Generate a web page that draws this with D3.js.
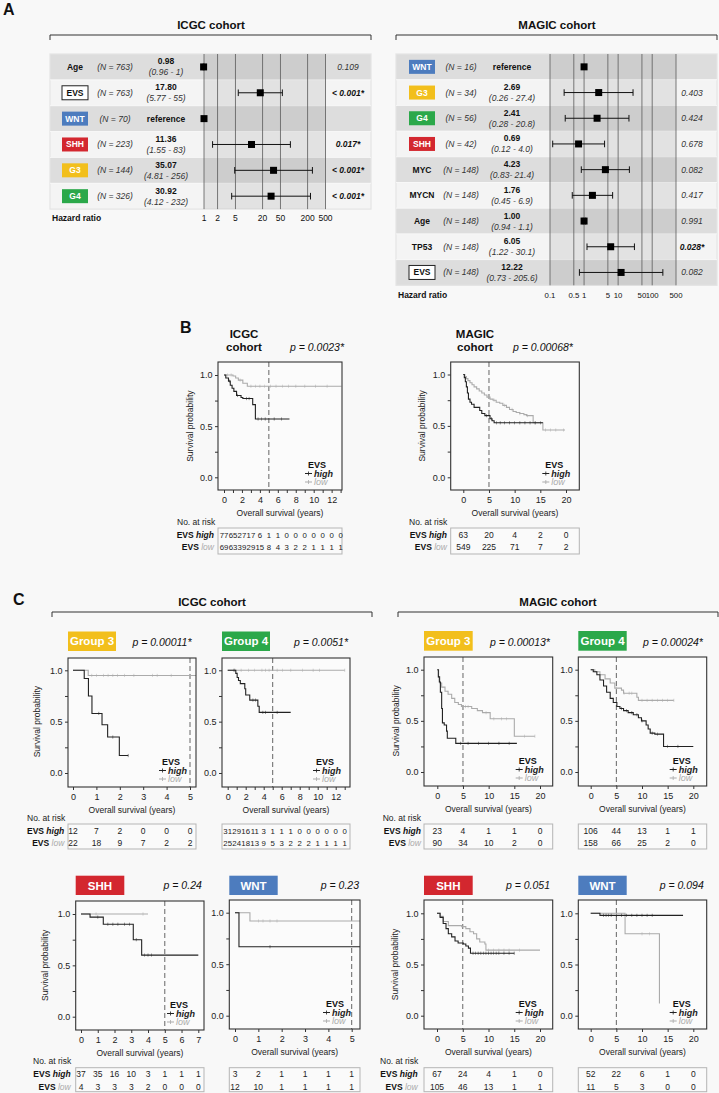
<!DOCTYPE html>
<html><head><meta charset="utf-8">
<script src="https://cdn.jsdelivr.net/npm/d3@7"></script>
<style>
body{margin:0;background:#f8f8f8;}
svg{display:block;font-family:"Liberation Sans",Arial,Helvetica,sans-serif;}
</style></head>
<body><svg id="c" width="719" height="1093"></svg>
<script>
// ---------------- DATA: Panel A forest plots ----------------
const icgcLabels = ["Age","EVS","WNT","SHH","G3","G4"];
const icgcN = [763,763,70,223,144,326];
const icgcHR = [0.98,17.80,1,11.36,35.07,30.92];
const icgcHRText = ["0.98","17.80","reference","11.36","35.07","30.92"];
const icgcLo = [0.96,5.77,null,1.55,4.81,4.12];
const icgcHi = [1,55,null,83,256,232];
const icgcCIText = ["(0.96 - 1)","(5.77 - 55)","","(1.55 - 83)","(4.81 - 256)","(4.12 - 232)"];
const icgcP = ["0.109","< 0.001*","","0.017*","< 0.001*","< 0.001*"];
const icgcHRTicks = [1,2,5,20,50,200,500];

const magicLabels = ["WNT","G3","G4","SHH","MYC","MYCN","Age","TP53","EVS"];
const magicN = [16,34,56,42,148,148,148,148,148];
const magicHR = [1,2.69,2.41,0.69,4.23,1.76,1.00,6.05,12.22];
const magicHRText = ["reference","2.69","2.41","0.69","4.23","1.76","1.00","6.05","12.22"];
const magicLo = [null,0.26,0.28,0.12,0.83,0.45,0.94,1.22,0.73];
const magicHi = [null,27.4,20.8,4.0,21.4,6.9,1.1,30.1,205.6];
const magicCIText = ["","(0.26 - 27.4)","(0.28 - 20.8)","(0.12 - 4.0)","(0.83- 21.4)","(0.45 - 6.9)","(0.94 - 1.1)","(1.22 - 30.1)","(0.73 - 205.6)"];
const magicP = ["","0.403","0.424","0.678","0.082","0.417","0.991","0.028*","0.082"];
const magicHRTicks = [0.1,0.5,1,5,10,50,100,500];

// ---------------- DATA: Kaplan-Meier curves [years, survival] ----------------
const bIcgcHigh = [[0,1],[0.2,0.97],[0.5,0.94],[0.7,0.9],[0.9,0.87],[1.1,0.84],[1.4,0.8],[1.9,0.78],[2.1,0.77],[3.2,0.71],[3.5,0.57],[7.3,0.57]];
const bIcgcLow = [[0,1],[1.0,0.99],[1.3,0.97],[1.6,0.95],[2.1,0.92],[2.6,0.89],[13.1,0.89]];
const bIcgcHighCens = [0.6,1.5,2.5,2.8,3.8,4.2,4.6,5.6,6.4];
const bIcgcLowCens = [0.4,0.8,1.8,3.0,3.5,4.0,4.5,5.2,5.8,6.5,7.2,8.0,9.0,10.2,11.5];
const bIcgcRiskHigh = [77,65,27,17,6,1,1,0,0,0,0,0,0,0];
const bIcgcRiskLow = [69,63,39,29,15,8,4,3,2,2,1,1,1,1];
const bIcgcXTicks = [0,2,4,6,8,10,12];

const bMagicHigh = [[0,1],[0.2,0.97],[0.4,0.93],[0.6,0.88],[0.8,0.82],[1.0,0.76],[1.3,0.73],[1.6,0.71],[2.1,0.68],[3.2,0.65],[3.6,0.62],[4.2,0.6],[5.2,0.57],[5.6,0.55],[6.0,0.53],[15.5,0.53]];
const bMagicLow = [[0,1],[0.3,0.98],[0.6,0.96],[0.9,0.94],[1.3,0.92],[1.7,0.9],[2.1,0.88],[2.6,0.86],[3.1,0.84],[3.6,0.82],[4.1,0.8],[4.6,0.78],[5.2,0.76],[5.8,0.75],[6.4,0.73],[7.1,0.72],[7.7,0.7],[8.4,0.68],[9.0,0.66],[9.7,0.64],[10.3,0.63],[11.0,0.62],[11.8,0.61],[12.3,0.6],[13.6,0.53],[15.5,0.46],[19.8,0.46]];
const bMagicHighCens = [4.5,5.5,6.5,7.2,8,9,10,11,12,13,14,15];
const bMagicLowCens = [6,8,9.5,11,12.5,14,16,17,18,19.5];
const bMagicRiskHigh = [63,20,4,2,0];
const bMagicRiskLow = [549,225,71,7,2];
const magicXTicks = [0,5,10,15,20];

const cIcgcG3High = [[0,1],[0.48,0.92],[0.66,0.75],[0.81,0.58],[1.24,0.47],[1.48,0.35],[1.98,0.17],[2.36,0.17]];
const cIcgcG3Low = [[0,1],[0.65,0.95],[5.4,0.95]];
const cIcgcG3HighCens = [1.1,1.7,2.36];
const cIcgcG3LowCens = [0.8,1.0,1.3,1.5,1.7,1.9,2.2,2.6,3.4,3.6,4.2,5.0];
const cIcgcG3RiskHigh = [12,7,2,0,0,0];
const cIcgcG3RiskLow = [22,18,9,7,2,2];
const icgcFiveTicks = [0,1,2,3,4,5];

const cIcgcG4High = [[0,1],[0.9,0.97],[1.05,0.93],[1.2,0.9],[1.4,0.87],[1.9,0.82],[2.0,0.76],[2.45,0.71],[3.35,0.65],[3.5,0.59],[7.0,0.59]];
const cIcgcG4Low = [[0,1],[13.0,1]];
const cIcgcG4HighCens = [0.7,2.8,3.1,3.9,4.2,5.5];
const cIcgcG4LowCens = [0.8,1.5,2.3,3.0,3.8,4.2,4.6,5.5,6.1,7.0,8.3,9.5,10.2,13.0];
const cIcgcG4RiskHigh = [31,29,16,11,3,1,1,1,0,0,0,0,0,0];
const cIcgcG4RiskLow = [25,24,18,13,9,5,3,2,2,2,1,1,1,1];

const cMagicG3High = [[0,1],[0.2,0.93],[0.4,0.88],[0.6,0.78],[0.85,0.62],[1.0,0.48],[1.35,0.46],[1.8,0.4],[1.95,0.33],[3.6,0.28],[15.5,0.28]];
const cMagicG3Low = [[0,1],[0.25,0.93],[0.5,0.87],[0.85,0.83],[1.5,0.79],[2.1,0.76],[2.8,0.72],[3.4,0.68],[4.1,0.66],[4.7,0.64],[6.7,0.62],[7.8,0.6],[8.8,0.58],[10.3,0.52],[15.0,0.35],[19.0,0.35]];
const cMagicG3HighCens = [4.5,6,8,10,12,14];
const cMagicG3LowCens = [5.5,6,9.5,11,12.5,13.5,17,19];
const cMagicG3RiskHigh = [23,4,1,1,0];
const cMagicG3RiskLow = [90,34,10,2,0];

const cMagicG4High = [[0,1],[0.5,0.98],[1.2,0.95],[1.8,0.9],[2.5,0.84],[3.1,0.78],[3.8,0.72],[4.4,0.68],[5.1,0.64],[5.7,0.62],[6.4,0.6],[7.3,0.58],[8.3,0.56],[9.3,0.53],[9.9,0.5],[10.8,0.46],[11.2,0.42],[11.6,0.38],[12.5,0.37],[14.2,0.25],[20,0.25]];
const cMagicG4Low = [[0,1],[0.8,0.98],[1.8,0.95],[2.8,0.91],[3.8,0.87],[4.7,0.82],[6.0,0.8],[6.4,0.77],[8.6,0.77],[9.0,0.73],[9.3,0.7],[16.2,0.7]];
const cMagicG4HighCens = [6,7,8,9,10,12,13,15,17];
const cMagicG4LowCens = [5,6.5,7.5,8,10,11,12,13,14,15,16.2];
const cMagicG4RiskHigh = [106,44,13,1,1];
const cMagicG4RiskLow = [158,66,25,2,0];

const cIcgcShhHigh = [[0,1],[0.54,0.97],[1.33,0.9],[3.12,0.75],[3.62,0.6],[7.0,0.6]];
const cIcgcShhLow = [[0,1],[4.0,1]];
const cIcgcShhHighCens = [1.0,1.6,1.9,2.2,2.6,2.9,3.3,3.8,4.0,4.2];
const cIcgcShhLowCens = [0.9,3.7];
const cIcgcShhRiskHigh = [37,35,16,10,3,1,1,1];
const cIcgcShhRiskLow = [4,3,3,3,2,0,0,0];
const icgcSevenTicks = [0,1,2,3,4,5,6,7];

const cIcgcWntHigh = [[0,1],[0.17,0.67],[5.4,0.67]];
const cIcgcWntLow = [[0,1],[0.64,0.92],[5.4,0.92]];
const cIcgcWntHighCens = [1.5];
const cIcgcWntLowCens = [1.0,1.2,1.5,1.8];
const cIcgcWntRiskHigh = [3,2,1,1,1,1];
const cIcgcWntRiskLow = [12,10,1,1,1,1];

const cMagicShhHigh = [[0,1],[0.6,0.96],[1.2,0.9],[1.75,0.85],[2.2,0.8],[2.85,0.77],[3.5,0.73],[4.1,0.71],[5.1,0.7],[5.6,0.68],[6.1,0.66],[6.5,0.61],[15,0.61]];
const cMagicShhLow = [[0,1],[0.6,0.97],[1.2,0.92],[2.2,0.88],[4.8,0.87],[5.6,0.85],[6.4,0.82],[7.1,0.8],[7.7,0.75],[8.3,0.72],[9.3,0.7],[9.5,0.64],[20,0.64]];
const cMagicShhHighCens = [7,7.5,8,8.5,9,9.5,10,10.5,11,11.5,12,13,14,15];
const cMagicShhLowCens = [10,11,12,13,14,16];
const cMagicShhRiskHigh = [67,24,4,1,0];
const cMagicShhRiskLow = [105,46,13,1,1];

const cMagicWntHigh = [[0,1],[1.8,0.98],[18,0.98]];
const cMagicWntLow = [[0,1],[6.7,0.8],[13.4,0.12]];
const cMagicWntHighCens = [2.5,3,3.5,4,5,6,7,8,9,10,11,12];
const cMagicWntLowCens = [10,11.5];
const cMagicWntRiskHigh = [52,22,6,1,0];
const cMagicWntRiskLow = [11,5,3,0,0];

// ---------------- STYLE ----------------
const groupColor = {"WNT":"#4d7cbe","SHH":"#d3272f","G3":"#f2bf1c","G4":"#2ba84a","Group 3":"#f2bf1c","Group 4":"#2ba84a"};
const HIGH = "#222", LOW = "#ababab";

const svg = d3.select("#c");
svg.append("rect").attr("width",719).attr("height",1093).attr("fill","#f8f8f8");

function txt(g,x,y,s,o={}){
  const t=g.append("text").attr("x",x).attr("y",y).text(s)
    .attr("font-size",o.size||9).attr("text-anchor",o.anchor||"start").attr("fill",o.fill||"#111");
  if(o.bold) t.attr("font-weight","bold");
  if(o.italic) t.attr("font-style","italic");
  return t;
}
function bracket(x0,x1,y){
  svg.append("path").attr("d",`M${x0},${y+5}V${y}H${x1}V${y+5}`).attr("fill","none").attr("stroke","#333").attr("stroke-width",1);
}

// panel letters & headers
txt(svg,3,15,"A",{size:16,bold:true});
txt(svg,180,333,"B",{size:16,bold:true});
txt(svg,13,605,"C",{size:16,bold:true});
txt(svg,211,29,"ICGC cohort",{size:11.5,bold:true,anchor:"middle"});
txt(svg,557,29,"MAGIC cohort",{size:11.5,bold:true,anchor:"middle"});
bracket(50,371,35); bracket(396,717,35);
txt(svg,212,606,"ICGC cohort",{size:11.5,bold:true,anchor:"middle"});
txt(svg,558,606,"MAGIC cohort",{size:11.5,bold:true,anchor:"middle"});
bracket(52,372,612); bracket(398,718,612);

// ---------------- Forest plot ----------------
function forest(c){
  const g=svg.append("g");
  const n=c.labels.length;
  const y=d3.scaleBand().domain(d3.range(n)).range([c.top,c.top+n*c.rowH]);
  const x=d3.scaleLog().domain(c.domain).range(c.range);
  const bottom=c.top+n*c.rowH;
  g.selectAll("rect.row").data(d3.range(n)).join("rect").attr("class","row")
    .attr("x",c.x0).attr("width",c.x1-c.x0).attr("y",i=>y(i)).attr("height",y.bandwidth())
    .attr("fill",i=>i%2===0?"#dddddd":"#f4f4f4");
  g.append("rect").attr("x",c.x0).attr("y",c.top).attr("width",c.x1-c.x0).attr("height",n*c.rowH)
    .attr("fill","none").attr("stroke","#e4e4e4").attr("stroke-width",1.2);
  g.selectAll("line.sep").data(d3.range(1,n)).join("line")
    .attr("x1",c.x0).attr("x2",c.x1).attr("y1",i=>y(i)).attr("y2",i=>y(i)).attr("stroke","#fafafa").attr("stroke-width",0.8);
  g.append("rect").attr("x",x(c.domain[0])).attr("width",x(c.domain[1])-x(c.domain[0]))
    .attr("y",c.top).attr("height",n*c.rowH).attr("fill","rgba(0,0,0,0.07)");
  g.selectAll("line.grid").data(c.ticks).join("line")
    .attr("x1",d=>x(d)).attr("x2",d=>x(d)).attr("y1",c.top).attr("y2",bottom)
    .attr("stroke","#5a5a5a").attr("stroke-width",0.8);
  g.selectAll("text.tick").data(c.ticks).join("text")
    .attr("x",d=>x(d)).attr("y",c.tickY).attr("text-anchor","middle").attr("font-size",c.tickSize).attr("fill","#111")
    .text(d=>String(d));
  txt(g,c.hrLabelX,c.tickY,"Hazard ratio",{size:8.5,bold:true});
  d3.range(n).forEach(i=>{
    const cy=y(i)+y.bandwidth()/2;
    const lab=c.labels[i];
    if(lab==="EVS"){
      g.append("rect").attr("x",c.cols.label-13).attr("y",cy-7).attr("width",26).attr("height",14)
        .attr("fill","#fff").attr("stroke","#222").attr("stroke-width",1);
      txt(g,c.cols.label,cy+3,lab,{size:8.5,bold:true,anchor:"middle"});
    } else if(groupColor[lab]){
      g.append("rect").attr("x",c.cols.label-13).attr("y",cy-7).attr("width",26).attr("height",14)
        .attr("fill",groupColor[lab]);
      txt(g,c.cols.label,cy+3,lab,{size:8.5,bold:true,anchor:"middle",fill:"#fff"});
    } else {
      txt(g,c.cols.label,cy+3,lab,{size:8.5,bold:true,anchor:"middle"});
    }
    txt(g,c.cols.n,cy+3,`(N = ${c.ns[i]})`,{size:8.5,italic:true,anchor:"middle",fill:"#333"});
    if(c.ci[i]){
      txt(g,c.cols.hr,cy-2.5,c.hrText[i],{size:8.5,bold:true,anchor:"middle"});
      txt(g,c.cols.hr,cy+8.5,c.ci[i],{size:8.5,italic:true,anchor:"middle",fill:"#333"});
    } else {
      txt(g,c.cols.hr,cy+3,c.hrText[i],{size:8.5,bold:true,anchor:"middle"});
    }
    if(c.p[i]){
      const sig=c.p[i].includes("*");
      txt(g,c.cols.p,cy+3,c.p[i],{size:8.5,italic:true,bold:sig,anchor:"middle",fill:sig?"#111":"#333"});
    }
    if(c.lo[i]!=null){
      const x0=x(c.lo[i]), x1=x(c.hi[i]);
      g.append("line").attr("x1",x0).attr("x2",x1).attr("y1",cy).attr("y2",cy).attr("stroke","#111").attr("stroke-width",1);
      [x0,x1].forEach(xx=>g.append("line").attr("x1",xx).attr("x2",xx).attr("y1",cy-3.3).attr("y2",cy+3.3).attr("stroke","#111").attr("stroke-width",1));
    }
    g.append("rect").attr("x",x(c.hr[i])-3.5).attr("y",cy-3.5).attr("width",7).attr("height",7).attr("fill","#000");
  });
}
forest({labels:icgcLabels,ns:icgcN,hr:icgcHR,hrText:icgcHRText,lo:icgcLo,hi:icgcHi,ci:icgcCIText,p:icgcP,ticks:icgcHRTicks,
  x0:50,x1:371,top:54,rowH:25.85,domain:[1,500],range:[204,325.5],cols:{label:75,n:115,hr:166,p:348},tickY:221,tickSize:8.5,hrLabelX:52});
forest({labels:magicLabels,ns:magicN,hr:magicHR,hrText:magicHRText,lo:magicLo,hi:magicHi,ci:magicCIText,p:magicP,ticks:magicHRTicks,
  x0:396,x1:717,top:54,rowH:25.7,domain:[0.1,500],range:[550,676],cols:{label:422,n:461,hr:512,p:692},tickY:298,tickSize:7.8,hrLabelX:398});

// ---------------- KM plot ----------------
function stepVal(arr,t){let v=arr[0][1];for(const d of arr){if(d[0]<=t)v=d[1];}return v;}
function km(c){
  const g=svg.append("g");
  const [bx0,bx1,by0,by1]=c.box;
  const x=d3.scaleLinear().domain(c.xd).range(c.xr);
  const y=d3.scaleLinear().domain([0,1]).range(c.yr);
  g.append("rect").attr("x",bx0).attr("y",by0).attr("width",bx1-bx0).attr("height",by1-by0).attr("fill","#fbfbfb");
  const cid="clip-"+c.id;
  svg.append("clipPath").attr("id",cid).append("rect").attr("x",bx0).attr("y",by0).attr("width",bx1-bx0).attr("height",by1-by0);
  const inner=g.append("g").attr("clip-path",`url(#${cid})`);
  inner.append("line").attr("x1",x(5)).attr("x2",x(5)).attr("y1",by0).attr("y2",by1)
    .attr("stroke","#555").attr("stroke-width",0.9).attr("stroke-dasharray","5,3");
  const line=d3.line().x(d=>x(d[0])).y(d=>y(d[1])).curve(d3.curveStepAfter);
  [[c.low,c.lowCens,LOW],[c.high,c.highCens,HIGH]].forEach(([arr,cens,col])=>{
    inner.append("path").attr("d",line(arr)).attr("fill","none").attr("stroke",col).attr("stroke-width",1.1);
    inner.selectAll(null).data(cens).join("line")
      .attr("x1",d=>x(d)).attr("x2",d=>x(d)).attr("y1",d=>y(stepVal(arr,d))-1.6).attr("y2",d=>y(stepVal(arr,d))+1.6)
      .attr("stroke",col).attr("stroke-width",0.6).attr("opacity",0.8);
  });
  // legend
  const R=bx1;
  txt(g,R-25,by1-22.5,"EVS",{size:9,bold:true,anchor:"middle"});
  [["high",HIGH,by1-13.5,true],["low",LOW,by1-5,false]].forEach(([s,col,bl,b])=>{
    g.append("line").attr("x1",R-37).attr("x2",R-30).attr("y1",bl-3).attr("y2",bl-3).attr("stroke",col).attr("stroke-width",1);
    g.append("line").attr("x1",R-33.5).attr("x2",R-33.5).attr("y1",bl-5).attr("y2",bl-1).attr("stroke",col).attr("stroke-width",0.8);
    txt(g,R-28,bl,s,{size:9,bold:b,italic:true,fill:col});
  });
  g.append("rect").attr("x",bx0).attr("y",by0).attr("width",bx1-bx0).attr("height",by1-by0)
    .attr("fill","none").attr("stroke","#333").attr("stroke-width",1.1);
  // x axis
  const minor=c.minor?d3.range(c.xd[0],c.xd[1]+0.001,c.minor):c.xt;
  const xa=g.append("g").attr("transform",`translate(0,${by1})`)
    .call(d3.axisBottom(x).tickValues(minor).tickSize(3).tickPadding(3.6).tickFormat(d=>c.xt.includes(d)?d3.format("d")(d):""));
  xa.select(".domain").remove();
  xa.selectAll("text").attr("font-size",9).attr("fill","#222").attr("font-family",null);
  xa.selectAll("line").attr("stroke","#333");
  txt(g,(bx0+bx1)/2,by1+25.5,"Overall survival (years)",{size:8.5,anchor:"middle",fill:"#222"});
  // y axis
  const ya=g.append("g").attr("transform",`translate(${bx0},0)`)
    .call(d3.axisLeft(y).tickValues([0,0.25,0.5,0.75,1]).tickSize(3).tickPadding(2.5).tickFormat(d=>(d===0||d===0.5||d===1)?d.toFixed(1):""));
  ya.select(".domain").remove();
  ya.selectAll("text").attr("font-size",9).attr("fill","#222").attr("font-family",null);
  ya.selectAll("line").attr("stroke","#333");
  if(c.yTitleX!=null){
    const cy=(c.yr[0]+c.yr[1])/2;
    txt(g,0,0,"Survival probability",{size:8.5,anchor:"middle",fill:"#222"})
      .attr("transform",`translate(${c.yTitleX},${cy}) rotate(-90)`).attr("x",0).attr("y",3);
  }
  // header
  if(c.title){
    txt(g,c.title.cx,c.title.y[0],c.title.lines[0],{size:11.5,bold:true,anchor:"middle"});
    txt(g,c.title.cx,c.title.y[1],c.title.lines[1],{size:11.5,bold:true,anchor:"middle"});
  }
  if(c.label){
    const [lx0,lx1,ly0,ly1]=c.label.box;
    g.append("rect").attr("x",lx0).attr("y",ly0).attr("width",lx1-lx0).attr("height",ly1-ly0).attr("fill",groupColor[c.label.text]);
    txt(g,(lx0+lx1)/2,(ly0+ly1)/2+4.2,c.label.text,{size:11.5,bold:true,anchor:"middle",fill:"#fff"});
  }
  txt(g,c.p.x,c.p.y,c.p.text,{size:10.5,italic:true,anchor:c.p.anchor||"middle",fill:"#111"});
  // risk table
  const [rt,rb]=c.risk;
  g.append("rect").attr("x",bx0).attr("y",rt).attr("width",bx1-bx0).attr("height",rb-rt)
    .attr("fill","#fafafa").attr("stroke","#b5b5b5").attr("stroke-width",1);
  const fs=c.riskHigh.length>8?7.8:8.5;
  [[c.riskHigh,rt+9.6],[c.riskLow,rt+22.3]].forEach(([vals,bl])=>{
    g.selectAll(null).data(vals).join("text")
      .attr("x",(d,i)=>x(i*c.riskStep)).attr("y",bl).attr("text-anchor","middle")
      .attr("font-size",fs).attr("fill","#222").text(d=>d);
  });
  if(c.riskLabelX!=null){
    txt(g,c.noRiskX,rt-3.5,"No. at risk",{size:8.5,fill:"#222"});
    const t1=g.append("text").attr("x",c.riskLabelX).attr("y",rt+9.6).attr("text-anchor","end").attr("font-size",8.5);
    t1.append("tspan").attr("font-weight","bold").attr("fill","#111").text("EVS ");
    t1.append("tspan").attr("font-weight","bold").attr("font-style","italic").attr("fill","#111").text("high");
    const t2=g.append("text").attr("x",c.riskLabelX).attr("y",rt+22.3).attr("text-anchor","end").attr("font-size",8.5);
    t2.append("tspan").attr("font-weight","bold").attr("fill","#111").text("EVS ");
    t2.append("tspan").attr("font-style","italic").attr("fill",LOW).text("low");
  }
}

const kmPlots=[
 {id:"bIcgc",box:[218,342,362,490],xd:[0,13],xr:[224,340.6],yr:[477.3,375],xt:bIcgcXTicks,minor:1,
  high:bIcgcHigh,low:bIcgcLow,highCens:bIcgcHighCens,lowCens:bIcgcLowCens,riskHigh:bIcgcRiskHigh,riskLow:bIcgcRiskLow,riskStep:1,
  risk:[528,554],riskLabelX:214,noRiskX:177,yTitleX:190,
  title:{cx:244,y:[337.5,350.5],lines:["ICGC","cohort"]},p:{x:317,y:350.5,text:"p = 0.0023*"}},
 {id:"bMagic",box:[450.7,579.3,362,490],xd:[0,20],xr:[463.3,566],yr:[477.3,374.5],xt:magicXTicks,
  high:bMagicHigh,low:bMagicLow,highCens:bMagicHighCens,lowCens:bMagicLowCens,riskHigh:bMagicRiskHigh,riskLow:bMagicRiskLow,riskStep:5,
  risk:[528,554],riskLabelX:447,noRiskX:409,yTitleX:421.7,
  title:{cx:475,y:[337.5,350.5],lines:["MAGIC","cohort"]},p:{x:543,y:350.5,text:"p = 0.00068*"}},
 {id:"cIcgcG3",box:[68,196,658,787],xd:[0,5],xr:[73,190],yr:[773,670.3],xt:icgcFiveTicks,
  high:cIcgcG3High,low:cIcgcG3Low,highCens:cIcgcG3HighCens,lowCens:cIcgcG3LowCens,riskHigh:cIcgcG3RiskHigh,riskLow:cIcgcG3RiskLow,riskStep:1,
  risk:[824,849],riskLabelX:64.3,noRiskX:27,yTitleX:37,
  label:{text:"Group 3",box:[68,116,631.5,651]},p:{x:162,y:645.5,text:"p = 0.00011*"}},
 {id:"cIcgcG4",box:[222,350,658,787],xd:[0,13],xr:[227.7,344.7],yr:[773,670.3],xt:bIcgcXTicks,minor:1,
  high:cIcgcG4High,low:cIcgcG4Low,highCens:cIcgcG4HighCens,lowCens:cIcgcG4LowCens,riskHigh:cIcgcG4RiskHigh,riskLow:cIcgcG4RiskLow,riskStep:1,
  risk:[824,849],
  label:{text:"Group 4",box:[222,270,631.5,651]},p:{x:321,y:645.5,text:"p = 0.0051*"}},
 {id:"cMagicG3",box:[424,552.7,657,786],xd:[0,20],xr:[437.3,540],yr:[772,669.7],xt:magicXTicks,
  high:cMagicG3High,low:cMagicG3Low,highCens:cMagicG3HighCens,lowCens:cMagicG3LowCens,riskHigh:cMagicG3RiskHigh,riskLow:cMagicG3RiskLow,riskStep:5,
  risk:[824,849],riskLabelX:421,noRiskX:382.7,yTitleX:396,
  label:{text:"Group 3",box:[424,472.7,631,650.7]},p:{x:520,y:645.5,text:"p = 0.00013*"}},
 {id:"cMagicG4",box:[578.3,706.7,657,786],xd:[0,20],xr:[590.7,693.3],yr:[772,669.7],xt:magicXTicks,
  high:cMagicG4High,low:cMagicG4Low,highCens:cMagicG4HighCens,lowCens:cMagicG4LowCens,riskHigh:cMagicG4RiskHigh,riskLow:cMagicG4RiskLow,riskStep:5,
  risk:[824,849],
  label:{text:"Group 4",box:[578.3,626.7,631,650.7]},p:{x:673,y:645.5,text:"p = 0.00024*"}},
 {id:"cIcgcShh",box:[75.7,204,901,1030],xd:[0,7],xr:[81,198.3],yr:[1016.7,914],xt:icgcSevenTicks,
  high:cIcgcShhHigh,low:cIcgcShhLow,highCens:cIcgcShhHighCens,lowCens:cIcgcShhLowCens,riskHigh:cIcgcShhRiskHigh,riskLow:cIcgcShhRiskLow,riskStep:1,
  risk:[1067.7,1091.7],riskLabelX:70.7,noRiskX:33,yTitleX:45,
  label:{text:"SHH",box:[75.7,124.3,875.7,895]},p:{x:182.7,y:889,text:"p = 0.24"}},
 {id:"cIcgcWnt",box:[229.3,360,900,1029],xd:[0,5],xr:[235,351.7],yr:[1015.7,912.7],xt:icgcFiveTicks,
  high:cIcgcWntHigh,low:cIcgcWntLow,highCens:cIcgcWntHighCens,lowCens:cIcgcWntLowCens,riskHigh:cIcgcWntRiskHigh,riskLow:cIcgcWntRiskLow,riskStep:1,
  risk:[1067.7,1091.7],
  label:{text:"WNT",box:[229.3,277.7,875.7,895]},p:{x:359,y:889,text:"p = 0.23",anchor:"end"}},
 {id:"cMagicShh",box:[424,552.7,900,1029],xd:[0,20],xr:[437,540],yr:[1015.7,913.3],xt:magicXTicks,
  high:cMagicShhHigh,low:cMagicShhLow,highCens:cMagicShhHighCens,lowCens:cMagicShhLowCens,riskHigh:cMagicShhRiskHigh,riskLow:cMagicShhRiskLow,riskStep:5,
  risk:[1067.7,1091.7],riskLabelX:417.7,noRiskX:380,yTitleX:395,
  label:{text:"SHH",box:[424,472.7,875.7,895]},p:{x:528,y:889,text:"p = 0.051"}},
 {id:"cMagicWnt",box:[578.3,706.7,900,1029],xd:[0,20],xr:[590.7,693.3],yr:[1015.7,913.3],xt:magicXTicks,
  high:cMagicWntHigh,low:cMagicWntLow,highCens:cMagicWntHighCens,lowCens:cMagicWntLowCens,riskHigh:cMagicWntRiskHigh,riskLow:cMagicWntRiskLow,riskStep:5,
  risk:[1067.7,1091.7],
  label:{text:"WNT",box:[578.3,626.7,875.7,895]},p:{x:681.7,y:889,text:"p = 0.094"}}
];
kmPlots.forEach(km);
</script>
</body></html>
